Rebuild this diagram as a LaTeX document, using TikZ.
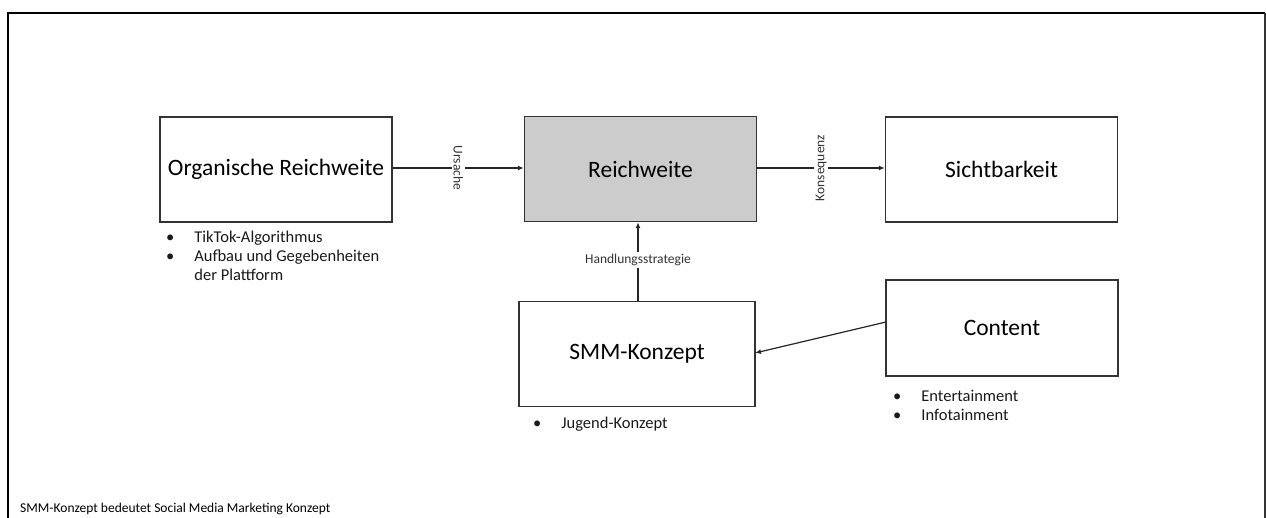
\documentclass[tikz,border=0pt]{standalone}
\usepackage{fontspec}
\setmainfont{Carlito}
\usetikzlibrary{arrows.meta}
\begin{document}
\begin{tikzpicture}[x=1pt,y=-1pt,
  box/.style={draw=black!80,line width=1.4pt,minimum width=232pt,minimum height=105pt,font=\fontsize{23.5}{26}\selectfont,inner sep=0pt},
  lab/.style={font=\fontsize{13.5}{15}\selectfont,fill=white,inner sep=2pt,text=black!80},
  arr/.style={line width=1.2pt,draw=black!85,-{Latex[length=6pt,width=5pt]}},
  bul/.style={font=\fontsize{16.5}{19}\selectfont,align=left,anchor=north west,inner sep=0pt,text=black!90}]
\useasboundingbox (0,0) rectangle (1266,518);
\draw[line width=2.6pt] (8,520) -- (8,13) -- (1265,13);
\draw[line width=1.2pt,black!80] (1265,13) -- (1265,520);
\node[box] (org) at (276,169.5) {Organische Reichweite};
\node[box,fill=black!20] (rw) at (640.5,169) {Reichweite};
\node[box] (sb) at (1001.5,169.5) {Sichtbarkeit};
\node[box,minimum width=236pt] (smm) at (637,354) {SMM-Konzept};
\node[box,minimum width=232pt,minimum height=96pt] (ct) at (1002,328) {Content};
\draw[arr] (org.east |- 0,168) -- (rw.west |- 0,168) node[lab,midway,rotate=-90] {Ursache};
\draw[arr] (rw.east |- 0,168) -- (sb.west |- 0,168) node[lab,midway,rotate=90] {Konsequenz};
\draw[arr] (smm.north -| 638,0) -- (rw.south -| 638,0) node[lab,pos=0.52] {Handlungsstrategie};
\coordinate (ctout) at (886,322);
\coordinate (smmin) at (755,353);
\draw[arr] (ctout) -- (smmin);
\node[bul] (b1) at (166,231) {\textbullet\hspace{20pt}TikTok-Algorithmus\\\textbullet\hspace{20pt}Aufbau und Gegebenheiten\\\phantom{\textbullet}\hspace{20pt}der Plattform};
\node[bul] (b2) at (533,417) {\textbullet\hspace{20pt}Jugend-Konzept};
\node[bul] (b3) at (893,390) {\textbullet\hspace{20pt}Entertainment\\\textbullet\hspace{20pt}Infotainment};
\node[font=\fontsize{13.5}{15}\selectfont,anchor=south west,inner sep=0pt] (fn) at (20,515) {SMM-Konzept bedeutet Social Media Marketing Konzept};
\end{tikzpicture}
\end{document}
